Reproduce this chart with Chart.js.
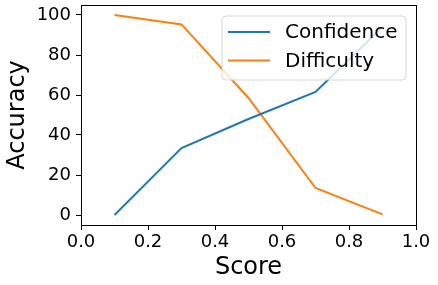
<!DOCTYPE html>
<html>
<head>
<meta charset="utf-8">
<script src="https://cdn.jsdelivr.net/npm/chart.js@4"></script>
<style>
  html, body { margin: 0; padding: 0; background: #fff; }
  #wrap { width: 438px; height: 285px; }
</style>
</head>
<body>
<div id="wrap"><canvas id="chart" width="438" height="285"></canvas></div>
<script>
// values
const scores = [0.1, 0.3, 0.5, 0.7, 0.9];
const confidence = [0, 33.5, 48, 61.5, 94];
const difficulty = [100, 95.3, 58.5, 13.5, 0.3];
const xTicks = [0.0, 0.2, 0.4, 0.6, 0.8, 1.0];
const yTicks = [0, 20, 40, 60, 80, 100];

const font = 'DejaVu Sans';

function pts(ys) {
    return scores.map((x, i) => ({ x: x, y: ys[i] }));
}

// matplotlib-like frame and legend box inside the axes
const framePlugin = {
    id: 'frame',
    afterDraw(chart) {
        const ctx = chart.ctx;
        const a = chart.chartArea;
        ctx.save();
        ctx.strokeStyle = '#000';
        ctx.lineWidth = 1;
        ctx.strokeRect(Math.round(a.left) + 0.5, Math.round(a.top) + 0.5,
            Math.round(a.right - a.left), Math.round(a.bottom - a.top));

        // legend
        const bx = 222, by = 16, bw = 184, bh = 64, r = 4;
        ctx.beginPath();
        ctx.moveTo(bx + r, by);
        ctx.arcTo(bx + bw, by, bx + bw, by + bh, r);
        ctx.arcTo(bx + bw, by + bh, bx, by + bh, r);
        ctx.arcTo(bx, by + bh, bx, by, r);
        ctx.arcTo(bx, by, bx + bw, by, r);
        ctx.closePath();
        ctx.fillStyle = 'rgba(255,255,255,0.8)';
        ctx.fill();
        ctx.strokeStyle = 'rgba(204,204,204,0.8)';
        ctx.stroke();

        ctx.font = '20px "' + font + '"';
        ctx.textBaseline = 'middle';
        ctx.textAlign = 'left';
        chart.data.datasets.forEach((ds, i) => {
            const y = 32 + i * 28.5;
            ctx.strokeStyle = ds.borderColor;
            ctx.lineWidth = 2;
            ctx.beginPath();
            ctx.moveTo(228, y);
            ctx.lineTo(270, y);
            ctx.stroke();
            ctx.fillStyle = '#000';
            ctx.fillText(ds.label, 285, y + 1);
        });
        ctx.restore();
    }
};

new Chart(document.getElementById('chart'), {
    type: 'line',
    data: {
        datasets: [{
            label: 'Confidence',
            data: pts(confidence),
            borderColor: '#1f77b4',
            borderWidth: 2,
            pointRadius: 0,
            tension: 0,
            fill: false
        }, {
            label: 'Difficulty',
            data: pts(difficulty),
            borderColor: '#ff7f0e',
            borderWidth: 2,
            pointRadius: 0,
            tension: 0,
            fill: false
        }]
    },
    options: {
        responsive: false,
        animation: false,
        layout: { padding: { top: 5, right: 22, left: 0, bottom: 0 } },
        scales: {
            x: {
                type: 'linear',
                min: 0,
                max: 1,
                afterBuildTicks: (s) => { s.ticks = xTicks.map(v => ({ value: v })); },
                afterFit: (s) => { s.height = 60; s.paddingLeft = 0; s.paddingRight = 0; },
                ticks: {
                    color: '#000',
                    font: { family: font, size: 18 },
                    padding: 2,
                    maxRotation: 0,
                    callback: (v) => Number(v).toFixed(1)
                },
                grid: { drawOnChartArea: false, drawTicks: true, tickLength: 5, color: '#000' },
                border: { display: false },
                title: {
                    display: true,
                    text: 'Score',
                    color: '#000',
                    font: { family: font, size: 24 },
                    padding: { top: 0, bottom: 3 }
                }
            },
            y: {
                min: -5,
                max: 105,
                afterBuildTicks: (s) => { s.ticks = yTicks.map(v => ({ value: v })); },
                afterFit: (s) => { s.width = 81; s.paddingTop = 0; s.paddingBottom = 0; },
                ticks: {
                    color: '#000',
                    font: { family: font, size: 18 },
                    padding: 5
                },
                grid: { drawOnChartArea: false, drawTicks: true, tickLength: 5, color: '#000' },
                border: { display: false },
                title: {
                    display: true,
                    text: 'Accuracy',
                    color: '#000',
                    font: { family: font, size: 24 },
                    padding: { top: 3, bottom: 0 }
                }
            }
        },
        plugins: {
            legend: { display: false },
            tooltip: { enabled: false }
        }
    },
    plugins: [framePlugin]
});
</script>
</body>
</html>
